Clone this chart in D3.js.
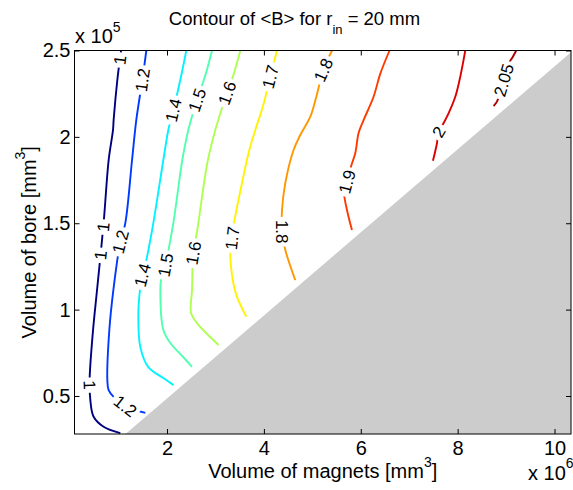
<!DOCTYPE html>
<html><head><meta charset="utf-8">
<script src="https://cdn.jsdelivr.net/npm/d3@7"></script>
<style>
body{margin:0;background:#fff}
text{font-family:"Liberation Sans",Arial,Helvetica,sans-serif;fill:#000}
</style>
</head><body>
<svg id="chart" width="573" height="490"></svg>
<script>
// ---- data (x in 1e6 mm^3, y in 1e5 mm^3) ----
const levels = [1, 1.2, 1.4, 1.5, 1.6, 1.7, 1.8, 1.9, 2, 2.05];
const c1_00 = [[1.051,2.5],[0.974,2.329],[0.898,2.098],[0.885,2.040],[0.795,1.866],[0.691,1.501],[0.555,1.113],[0.473,0.882],[0.402,0.592],[0.417,0.476],[0.485,0.380],[0.691,0.322],[1.036,0.285]];
const c1_20 = [[1.573,2.5],[1.490,2.329],[1.366,2.098],[1.278,1.866],[1.139,1.501],[1.036,1.393],[0.892,1.113],[0.809,0.882],[0.768,0.592],[0.795,0.534],[0.898,0.495],[1.139,0.442],[1.346,0.419],[1.552,0.402]];
const c1_40 = [[2.398,2.5],[2.274,2.329],[2.130,2.155],[2.027,2.040],[1.924,1.866],[1.717,1.501],[1.573,1.287],[1.490,1.200],[1.449,1.131],[1.408,0.980],[1.449,0.783],[1.614,0.667],[1.924,0.604],[2.136,0.563]];
const c1_50 = [[2.929,2.5],[2.790,2.355],[2.619,2.213],[2.440,2.040],[2.316,1.866],[2.130,1.501],[1.965,1.258],[1.876,1.171],[1.862,1.113],[1.924,0.882],[2.068,0.807],[2.336,0.725],[2.516,0.669]];
const c1_60 = [[3.513,2.5],[3.368,2.355],[3.238,2.254],[2.997,2.040],[2.832,1.849],[2.625,1.461],[2.543,1.327],[2.516,1.113],[2.495,0.980],[2.619,0.922],[3.065,0.795]];
const c1_70 = [[4.270,2.5],[4.132,2.348],[3.988,2.184],[3.823,2.040],[3.699,1.924],[3.548,1.733],[3.368,1.478],[3.342,1.414],[3.307,1.345],[3.368,1.154],[3.445,1.074],[3.637,0.959]];
const c1_80 = [[5.406,2.5],[5.226,2.387],[5.081,2.231],[4.958,2.117],[4.751,2.011],[4.613,1.924],[4.442,1.733],[4.374,1.577],[4.374,1.451],[4.442,1.345],[4.648,1.171]];
const c1_90 = [[6.594,2.5],[6.402,2.365],[6.264,2.232],[6.058,2.097],[5.955,2.022],[5.887,1.907],[5.798,1.828],[5.715,1.740],[5.659,1.673],[5.715,1.577],[5.818,1.461]];
const c2_00 = [[8.157,2.5],[8.122,2.445],[8.039,2.329],[7.951,2.232],[7.812,2.136],[7.709,2.079],[7.606,2.030],[7.573,1.963],[7.490,1.862]];
const c2_05 = [[9.210,2.5],[9.121,2.455],[9.051,2.426],[8.948,2.329],[8.811,2.204],[8.741,2.179]];
const contourLines = [c1_00, c1_20, c1_40, c1_50, c1_60, c1_70, c1_80, c1_90, c2_00, c2_05];
// inline labels: [level, x, y]
const labelLevels = [1, 1, 1, 1, 1.2, 1.2, 1.2, 1.4, 1.4, 1.5, 1.5, 1.6, 1.6, 1.7, 1.7, 1.8, 1.8, 1.9, 2, 2.05];
const labelX = [1.036, 0.691, 0.568, 0.417, 1.490, 1.036, 1.139, 2.130, 1.490, 2.619, 1.965, 3.238, 2.543, 4.132, 3.342, 5.226, 4.374, 5.715, 7.606, 8.948];
const labelY = [2.445, 1.478, 1.316, 0.563, 2.329, 1.393, 0.442, 2.155, 1.200, 2.213, 1.258, 2.254, 1.327, 2.348, 1.414, 2.387, 1.451, 1.740, 2.030, 2.329];
// invalid (grey) region
const nanRegion = [[1.143,0.28],[10.34,0.28],[10.34,2.49]];
const xTicks = [2, 4, 6, 8, 10];
const yTicks = [0.5, 1, 1.5, 2, 2.5];
const xDomain = [0.09, 10.34];
const yDomain = [0.28, 2.5];
const colorDomain = [1.0, 2.1];

// ---- drawing ----
const svg = d3.select("#chart");
const L = 74.5, R = 571, T = 50.5, B = 434;
const x = d3.scaleLinear().domain(xDomain).range([L, R]);
const y = d3.scaleLinear().domain(yDomain).range([B, T]);
const cnorm = d3.scaleLinear().domain(colorDomain).range([0, 1]).clamp(true);
const clamp01 = v => Math.max(0, Math.min(1, v));
function jet(v) {
  const t = cnorm(v);
  const r = clamp01(1.5 - Math.abs(4 * t - 3));
  const g = clamp01(1.5 - Math.abs(4 * t - 2));
  const b = clamp01(1.5 - Math.abs(4 * t - 1));
  return d3.rgb(r * 255, g * 255, b * 255).formatHex();
}

const defs = svg.append("defs");
defs.append("clipPath").attr("id", "plotclip").append("rect")
  .attr("x", L).attr("y", T).attr("width", R - L).attr("height", B - T);
const mask = defs.append("mask").attr("id", "labelmask").attr("maskUnits", "userSpaceOnUse")
  .attr("x", 0).attr("y", 0).attr("width", 573).attr("height", 490);
mask.append("rect").attr("x", 0).attr("y", 0).attr("width", 573).attr("height", 490).attr("fill", "#fff");

const plot = svg.append("g").attr("clip-path", "url(#plotclip)");
plot.append("path")
  .attr("d", d3.line().x(d => x(d[0])).y(d => y(d[1]))(nanRegion) + "Z")
  .attr("fill", "#cccccc");

const lineGen = d3.line().x(d => x(d[0])).y(d => y(d[1])).curve(d3.curveCatmullRom.alpha(0.5));
const linesG = plot.append("g").attr("mask", "url(#labelmask)");
contourLines.forEach((pts, i) => {
  linesG.append("path").attr("d", lineGen(pts))
    .attr("fill", "none").attr("stroke", jet(levels[i]))
    .attr("stroke-width", 1.9).attr("stroke-linejoin", "round").attr("stroke-linecap", "butt");
});

// labels
const labG = svg.append("g");
labelLevels.forEach((lev, k) => {
  const pts = contourLines[levels.indexOf(lev)].map(d => [x(d[0]), y(d[1])]);
  const px = x(labelX[k]), py = y(labelY[k]);
  let best = null;
  for (let i = 0; i < pts.length - 1; i++) {
    const [ax, ay] = pts[i], [bx, by] = pts[i + 1];
    const dx = bx - ax, dy = by - ay;
    const len2 = dx * dx + dy * dy;
    let t = len2 ? ((px - ax) * dx + (py - ay) * dy) / len2 : 0;
    t = Math.max(0, Math.min(1, t));
    const qx = ax + t * dx, qy = ay + t * dy;
    const dist = (qx - px) ** 2 + (qy - py) ** 2;
    if (!best || dist < best.dist) best = {dist, qx, qy, ang: Math.atan2(dy, dx) * 180 / Math.PI};
  }
  let ang = best.ang;
  if (ang > 90) ang -= 180;
  if (ang < -90) ang += 180;
  const txt = labG.append("text")
    .attr("transform", `translate(${best.qx},${best.qy}) rotate(${ang})`)
    .attr("text-anchor", "middle").attr("dy", "0.36em")
    .style("font-size", "17px").text(String(lev));
  const w = txt.node().getComputedTextLength();
  mask.append("rect")
    .attr("transform", `translate(${best.qx},${best.qy}) rotate(${ang})`)
    .attr("x", -w / 2 - 3).attr("y", -7).attr("width", w + 6).attr("height", 14)
    .attr("fill", "#000");
});

// axes
const fs = "20px";
const ax = svg.append("g").attr("transform", `translate(0,${B})`)
  .call(d3.axisBottom(x).tickValues(xTicks).tickSize(-5).tickSizeOuter(0).tickPadding(7).tickFormat(d => d));
const ay = svg.append("g").attr("transform", `translate(${L},0)`)
  .call(d3.axisLeft(y).tickValues(yTicks).tickSize(-5).tickSizeOuter(0).tickPadding(4).tickFormat(d => d));
const at = svg.append("g").attr("transform", `translate(0,${T})`)
  .call(d3.axisTop(x).tickValues(xTicks).tickSize(-5).tickSizeOuter(0).tickFormat(""));
const ar = svg.append("g").attr("transform", `translate(${R},0)`)
  .call(d3.axisRight(y).tickValues(yTicks).tickSize(-5).tickSizeOuter(0).tickFormat(""));
[ax, ay, at, ar].forEach(g => {
  g.select(".domain").remove();
  g.selectAll("line").attr("stroke", "#000");
  g.selectAll("text").style("font-size", fs).attr("fill", "#000")
    .style("font-family", '"Liberation Sans",Arial,sans-serif');
});
svg.append("rect").attr("x", L).attr("y", T).attr("width", R - L).attr("height", B - T)
  .attr("fill", "none").attr("stroke", "#000").attr("stroke-width", 1);

// title
const title = svg.append("text").attr("x", 294.5).attr("y", 24.5).attr("text-anchor", "middle")
  .style("font-size", "18.5px");
title.append("tspan").text("Contour of <B> for r");
title.append("tspan").attr("dy", 9).style("font-size", "13px").text("in");
title.append("tspan").attr("dy", -9).text(" = 20 mm");

// x label
const xl = svg.append("text").attr("x", (L + R) / 2).attr("y", 478).attr("text-anchor", "middle").style("font-size", fs);
xl.append("tspan").text("Volume of magnets [mm");
xl.append("tspan").attr("dy", -11).style("font-size", "14px").text("3");
xl.append("tspan").attr("dy", 11).text("]");

// y label
const yl = svg.append("text").attr("transform", `translate(36,${(T + B) / 2}) rotate(-90)`)
  .attr("text-anchor", "middle").style("font-size", fs);
yl.append("tspan").text("Volume of bore [mm");
yl.append("tspan").attr("dy", -11).style("font-size", "14px").text("3");
yl.append("tspan").attr("dy", 11).text("]");

// exponent labels
const e5 = svg.append("text").attr("x", 75).attr("y", 43).style("font-size", fs);
e5.append("tspan").text("x 10");
e5.append("tspan").attr("dy", -11).style("font-size", "14px").text("5");
const e6 = svg.append("text").attr("x", 528).attr("y", 480).style("font-size", fs);
e6.append("tspan").text("x 10");
e6.append("tspan").attr("dy", -12).style("font-size", "14px").text("6");
</script>
</body></html>
